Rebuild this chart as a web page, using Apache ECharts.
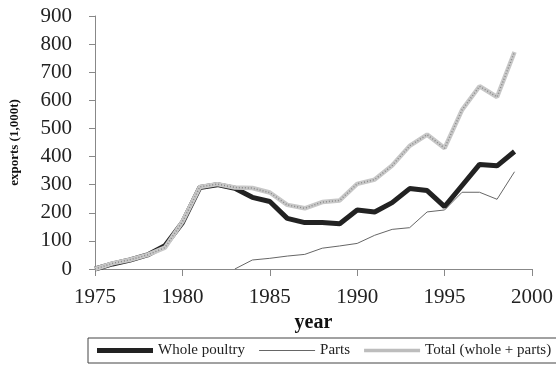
<!DOCTYPE html>
<html>
<head>
<meta charset="utf-8">
<script src="https://cdn.jsdelivr.net/npm/echarts@6/dist/echarts.min.js"></script>
<style>
  html, body { margin: 0; padding: 0; background: #fff; }
  #chart { width: 556px; height: 365px; }
</style>
</head>
<body>
<div id="chart"></div>
<script>
const years = [1975,1976,1977,1978,1979,1980,1981,1982,1983,1984,1985,1986,1987,1988,1989,1990,1991,1992,1993,1994,1995,1996,1997,1998,1999];
const whole = [0,18,32,50,83,165,290,300,287,255,240,180,165,165,161,210,203,236,286,279,222,297,372,367,418];
const parts = [null,null,null,null,null,null,null,null,0,32,38,46,52,74,82,91,120,141,147,203,210,273,273,248,346];
const total = [0,20,33,50,76,168,292,302,290,288,272,228,216,238,244,303,318,368,438,478,430,566,650,612,772];

const serif = '"Liberation Serif", "DejaVu Serif", serif';
const pairs = arr => years.map((y, i) => [y, arr[i]]);

const chart = echarts.init(document.getElementById('chart'));
chart.setOption({
  animation: false,
  backgroundColor: '#fff',
  grid: { left: 95, right: 20, top: 16, bottom: 96 },
  legend: {
    data: [
      { name: 'Whole poultry', icon: 'path://M0,0H56V5H0Z' },
      { name: 'Parts', icon: 'path://M0,0H56V1H0Z' },
      { name: 'Total (whole + parts)', icon: 'path://M0,0H56V3.5H0Z' }
    ],
    symbolKeepAspect: true,
    left: 88, top: 338, width: 520,
    itemWidth: 56, itemHeight: 10, itemGap: 14,
    padding: [5, 6, 5, 9],
    borderColor: '#444', borderWidth: 1, borderRadius: 0,
    textStyle: { fontFamily: serif, fontSize: 15, color: '#222' }
  },
  xAxis: {
    type: 'value', min: 1975, max: 2000, interval: 5,
    name: 'year', nameLocation: 'middle', nameGap: 41,
    nameTextStyle: { fontFamily: serif, fontSize: 20, fontWeight: 'bold', color: '#111' },
    axisLine: { lineStyle: { color: '#888' } },
    axisTick: { length: 7, lineStyle: { color: '#888' } },
    axisLabel: { fontFamily: serif, fontSize: 21, color: '#222', margin: 18, formatter: v => String(v) },
    splitLine: { show: false }
  },
  yAxis: {
    type: 'value', min: 0, max: 900, interval: 100,
    name: 'exports (1,000t)', nameLocation: 'middle', nameGap: 74,
    nameTextStyle: { fontFamily: serif, fontSize: 13, fontWeight: 'bold', color: '#111' },
    axisLine: { show: true, lineStyle: { color: '#888' } },
    axisTick: { show: true, length: 6, lineStyle: { color: '#888' } },
    axisLabel: { fontFamily: serif, fontSize: 21, color: '#222', margin: 23 },
    splitLine: { show: false }
  },
  series: [
    {
      name: 'Whole poultry', type: 'line', data: pairs(whole),
      symbol: 'none', z: 2,
      itemStyle: { color: '#222' },
      lineStyle: { color: '#222', width: 5 }
    },
    {
      name: 'Parts', type: 'line', data: pairs(parts),
      symbol: 'none', z: 2,
      itemStyle: { color: '#666' },
      lineStyle: { color: '#666', width: 1 }
    },
    {
      name: 'Total (whole + parts)', type: 'line', data: pairs(total),
      symbol: 'none', z: 3,
      itemStyle: { color: '#bdbdbd' },
      lineStyle: { color: '#c8c8c8', width: 4.5 }
    },
    {
      name: 'total-texture', type: 'line', data: pairs(total),
      symbol: 'none', z: 4, silent: true,
      lineStyle: { color: '#8a8a8a', width: 1.5, type: [1, 2] }
    }
  ]
});
</script>
</body>
</html>
